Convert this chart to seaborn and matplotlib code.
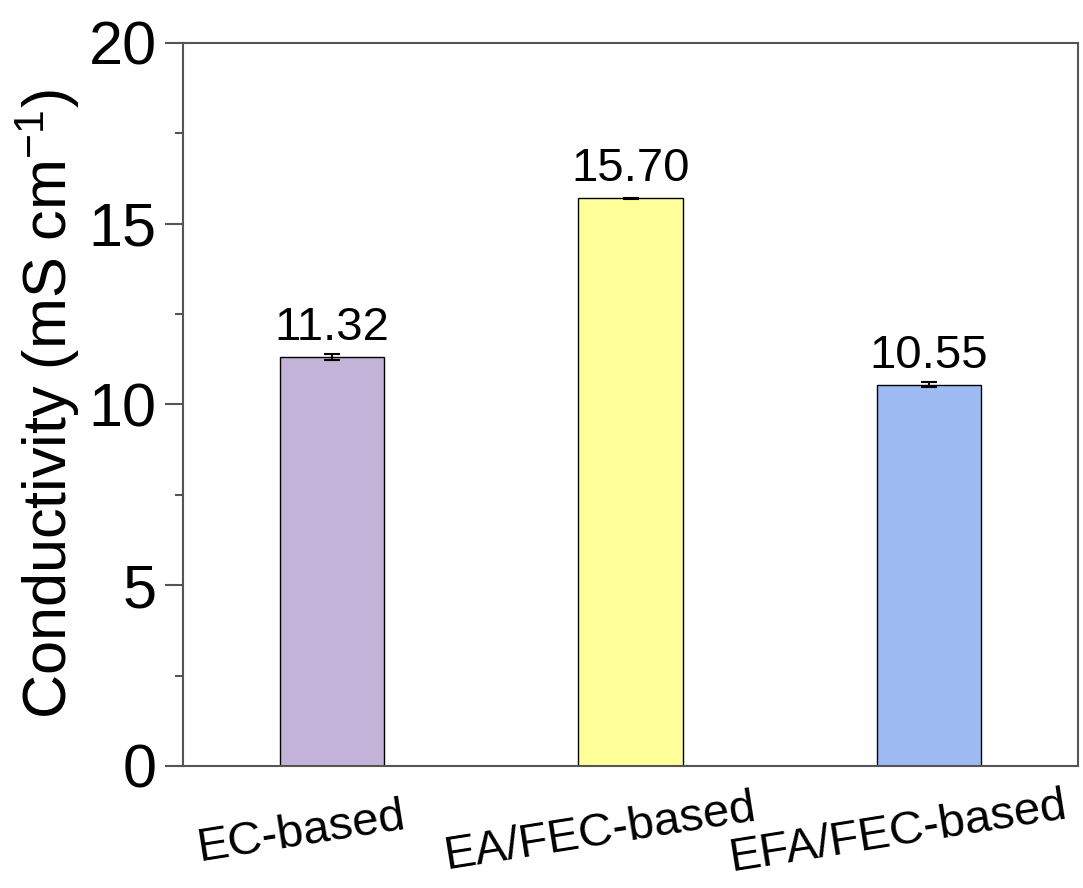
import matplotlib
matplotlib.use("Agg")
import matplotlib.pyplot as plt
import matplotlib.transforms as mtransforms
from matplotlib.ticker import MultipleLocator
import seaborn as sns
import pandas as pd

# Electrolyte ionic conductivity
categories = ["EC-based", "EA/FEC-based", "EFA/FEC-based"]
conductivity = [11.32, 15.70, 10.55]
errors = [0.08, 0.02, 0.07]
colors = ["#C3B3D8", "#FFFF99", "#9DBBF2"]

sns.set_style("ticks")
plt.rcParams["font.family"] = ["Liberation Sans", "DejaVu Sans"]
plt.rcParams["mathtext.default"] = "regular"
plt.rcParams["text.color"] = "black"
plt.rcParams["axes.labelcolor"] = "black"
plt.rcParams["xtick.labelcolor"] = "black"
plt.rcParams["ytick.labelcolor"] = "black"

df = pd.DataFrame({"electrolyte": categories, "sigma": conductivity})

fig = plt.figure(figsize=(10.83, 8.88), dpi=100)
ax = fig.add_axes([0.169, 0.1374, 0.8264, 0.8142])

sns.barplot(data=df, x="electrolyte", y="sigma", hue="electrolyte",
            palette=colors, width=0.35, edgecolor="black", linewidth=1.0,
            errorbar=None, legend=False, ax=ax, saturation=1)

xs = range(len(categories))
ax.errorbar(xs, conductivity, yerr=errors, fmt="none", ecolor="black",
            elinewidth=1.5, capsize=6, capthick=1.5, zorder=5)

for x, v in zip(xs, conductivity):
    ax.annotate(f"{v:.2f}", (x, v), xytext=(0, 5), textcoords="offset points",
                ha="center", va="bottom", fontsize=34, color="black")

ax.set_xlim(-0.5, 2.5)
ax.set_ylim(0, 20)
ax.yaxis.set_major_locator(MultipleLocator(5))
ax.yaxis.set_minor_locator(MultipleLocator(2.5))

for s in ax.spines.values():
    s.set_visible(True)
    s.set_linewidth(1.5)
    s.set_color("#555555")

ax.tick_params(axis="y", which="major", direction="out", length=13, width=1.5,
               color="#555555", labelsize=44, pad=6, labelcolor="black")
ax.tick_params(axis="y", which="minor", direction="out", length=6, width=1.5,
               color="#555555")
ax.tick_params(axis="x", which="both", length=0, labelsize=34, pad=48,
               labelcolor="black")

ax.set_xlabel("")
ax.set_ylabel("Conductivity (mS cm$^{-1}$)", fontsize=44, labelpad=5,
              color="black")

shift = mtransforms.ScaledTranslation(-0.31, 0, fig.dpi_scale_trans)
for lab in ax.get_xticklabels():
    lab.set_rotation(9)
    lab.set_rotation_mode("anchor")
    lab.set_ha("center")
    lab.set_va("center")
    lab.set_transform(lab.get_transform() + shift)

fig.savefig("out.png", dpi=100)
